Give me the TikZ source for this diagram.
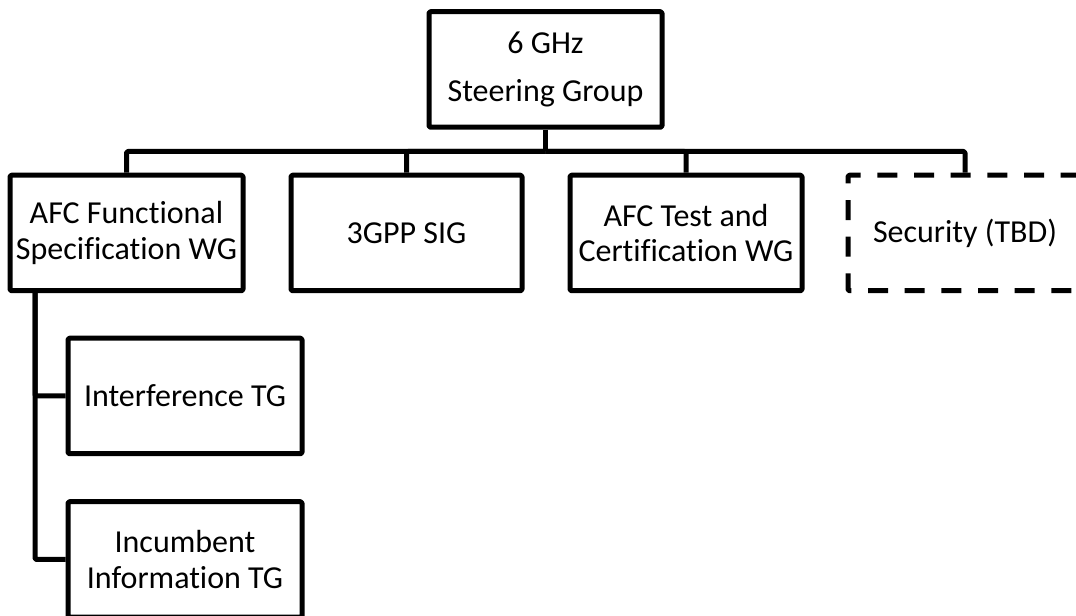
\documentclass[tikz,border=0pt]{standalone}
\usepackage{fontspec}
\setmainfont{Carlito}[Ligatures=NoCommon]
\begin{document}
\begin{tikzpicture}[x=0.75pt,y=-0.75pt,
  box/.style={draw=black,line width=3.75pt,line join=round,rounded corners=1pt,fill=white,
    minimum width=#1*0.75pt,minimum height=115.5*0.75pt,inner sep=0pt,align=center,
    font=\fontsize{24}{26.5}\selectfont},
  box/.default=233,
  conn/.style={draw=black,line width=3.75pt,line join=round,rounded corners=1pt}]
\useasboundingbox (0,0) rectangle (1076,616);
\clip (0,0) rectangle (1076,616);
\node[box=233,font=\fontsize{24}{36}\selectfont] (top) at (545.5,69.5) {6 GHz\\Steering Group};
\node[box=233] (afc) at (126.5,233) {AFC Functional\\Specification WG};
\node[box=231] (sig) at (406.5,233) {3GPP SIG};
\node[box=232] (test) at (686,233) {AFC Test and\\Certification WG};
\node[box=234,dash pattern=on 15pt off 12.5pt] (sec) at (965,233) {Security (TBD)};
\node[box=234] (intf) at (185,396) {Interference TG};
\node[box=234] (inc) at (185,559.5) {Incumbent\\Information TG};
\coordinate (j) at (545.5,151.5);
\coordinate (v) at (35,291);
\draw[conn] (top.south) -- (j);
\draw[conn] (afc.north) |- (j);
\draw[conn] (sig.north) |- (j);
\draw[conn] (test.north) |- (j);
\draw[conn] (sec.north) |- (j);
\draw[conn] (v) |- (intf.west);
\draw[conn] (v) |- (inc.west);
\end{tikzpicture}
\end{document}
